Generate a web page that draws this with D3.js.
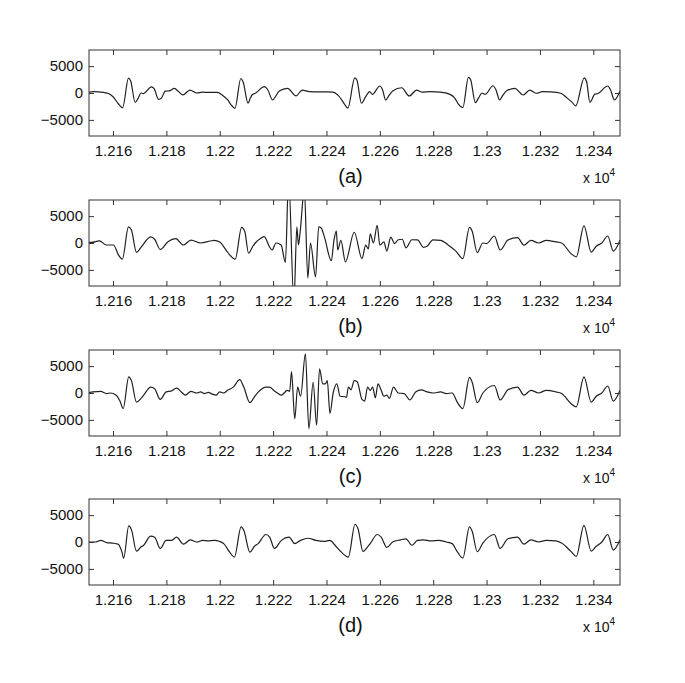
<!DOCTYPE html>
<html>
<head>
<meta charset="utf-8">
<script src="https://cdn.jsdelivr.net/npm/d3@7"></script>
<style>
  body { margin: 0; background: #fff; }
  svg { display: block; }
</style>
</head>
<body>
<script>
// ---------- data ----------
const xTickValues = [12160, 12180, 12200, 12220, 12240, 12260, 12280, 12300, 12320, 12340];
const xTickLabels = ["1.216", "1.218", "1.22", "1.222", "1.224", "1.226", "1.228", "1.23", "1.232", "1.234"];
const yTickValues = [-5000, 0, 5000];
const yTickLabels = ["\u22125000", "0", "5000"];
const panelLabels = ["(a)", "(b)", "(c)", "(d)"];
const xDomain = [12151, 12350];
const yDomain = [-8000, 8000];

const seriesA = [
  [12150,100],[12152.6,250],[12156.4,100],[12158.3,-100],[12160,-700],[12162,-2000],[12163.6,-2750],
  [12165.8,2750],[12166.6,2300],[12168.3,-1750],[12169.5,-900],[12170.5,0],[12171.4,-100],
  [12174.4,1150],[12175.4,800],[12177.1,-1200],[12178.2,-900],[12179.6,350],[12181,400],[12183,850],
  [12184.5,300],[12186.2,-350],[12188.8,550],[12191.4,0],[12193.5,150],[12196,100],[12199,100],
  [12201,-400],[12203,-1300],[12204.1,-2100],[12205.7,-2850],[12207.9,2700],[12208.8,2000],
  [12210.6,-1900],[12211.5,-900],[12212.1,-370],[12213.5,0],[12216.7,1170],[12218,600],[12219.8,-1300],
  [12221.1,-500],[12222.3,370],[12225.4,870],[12228.6,-550],[12230.9,550],[12233.6,250],[12237,200],
  [12240,200],[12242.4,180],[12244.5,-500],[12246.8,-2100],[12248,-2830],[12250.6,2830],[12251.4,2400],
  [12253.1,-1900],[12254.7,-680],[12256.2,250],[12257.2,-250],[12260,1300],[12261,600],[12262.2,-1300],
  [12263.5,-400],[12264.8,370],[12268.2,980],[12271,-550],[12273.8,550],[12275.7,180],[12279,250],
  [12282.6,180],[12286.3,-250],[12288,-900],[12289.5,-2100],[12291.1,-2700],[12293.2,2900],[12294,2500],
  [12295.8,-1800],[12297,-900],[12298.3,0],[12299.5,-250],[12302.4,1350],[12303.5,600],[12304.9,-1300],
  [12306,-500],[12307.4,370],[12310.6,870],[12313.7,-370],[12316.2,550],[12318.7,-50],[12320.9,250],
  [12324,200],[12327.8,-50],[12330.3,-1000],[12332,-1700],[12333.4,-2400],[12336.6,2830],[12337.5,2100],
  [12338.7,-1720],[12340.6,-200],[12341.7,-100],[12345.4,1300],[12346.5,500],[12347.9,-1300],[12350,370]
];

const seriesB = [
  [12150,200],[12152,100],[12154.9,400],[12157.5,-370],[12160.2,-370],[12162,-2200],[12163.5,-3000],
  [12165.8,3000],[12166.9,2400],[12168.8,-1750],[12170.5,-800],[12174.1,1150],[12175.6,700],[12177.7,-1200],
  [12180.6,250],[12183.5,800],[12186.4,-370],[12189.2,550],[12192.8,0],[12196.4,370],[12197.9,500],
  [12200,200],[12202.9,-1700],[12205.8,-3000],[12208.2,2900],[12209.4,2100],[12210.8,-1900],[12212.3,-700],
  [12213.3,0],[12215.4,900],[12216.7,1200],[12217.3,800],[12218.5,-600],[12219.6,-1300],[12221.1,0],
  [12223,-370],[12224.6,-3600],[12225.8,12000],[12227.8,-11000],[12228.9,3000],[12229.5,-370],
  [12230.2,2400],[12231.7,10000],[12233,-6500],[12234,0],[12235.9,-6300],[12237.1,3000],[12238,2800],
  [12239.3,1000],[12241.8,-3300],[12242.8,500],[12243.7,2200],[12244.2,-1300],[12245.4,500],
  [12247.1,-3500],[12250.4,2000],[12253.3,-2900],[12254.7,-400],[12255.7,-1100],[12256.4,1700],
  [12257.6,0],[12259,3300],[12260,-400],[12261.5,200],[12262.6,-1500],[12264.1,1100],[12265.5,-100],
  [12266.9,600],[12268.4,700],[12269.8,-900],[12272,600],[12274.1,600],[12276.3,-800],[12277.7,-600],
  [12279.9,600],[12282.8,500],[12285.7,-400],[12288.5,-1500],[12291.1,-2900],[12293.6,2900],[12294.6,2200],
  [12296.5,-1800],[12298.6,0],[12300,-100],[12302.9,1300],[12305.1,-1300],[12308,550],[12311.6,1000],
  [12314,-400],[12316.6,500],[12319.5,0],[12322.4,500],[12326,200],[12328.1,0],[12331.7,-2000],
  [12333.6,-2600],[12336.5,3200],[12339.2,-1700],[12341.1,-600],[12343.2,0],[12345.4,1300],
  [12347.5,-1500],[12350,500]
];

const seriesC = [
  [12150,0],[12152.5,200],[12155.4,300],[12157.6,-100],[12159,0],[12161.2,-400],[12162.6,-1500],
  [12163.8,-2900],[12165.9,3000],[12166.9,2300],[12168.8,-1700],[12170.5,-1000],[12171.5,-400],
  [12174.1,1100],[12175.6,800],[12177.7,-1200],[12179.9,200],[12182,400],[12183.8,900],[12185.6,200],
  [12187.1,-400],[12189.2,300],[12191.4,0],[12192.8,200],[12194.3,-100],[12195.7,100],[12197.2,-200],
  [12198.6,-400],[12200,200],[12201.5,0],[12202.9,500],[12205.1,1100],[12207.5,2500],[12209,1100],
  [12211.3,-1800],[12213,-700],[12215.1,500],[12217.3,1100],[12218.7,1100],[12220.2,500],[12221.6,0],
  [12223.1,-400],[12224.5,200],[12225.2,500],[12226.2,300],[12226.9,4000],[12228.1,-4800],[12229.2,1100],
  [12230.3,-600],[12232.1,7300],[12233.4,-6600],[12235,2000],[12236.3,-6000],[12237.4,4500],
  [12238.6,1700],[12239.6,1700],[12240.3,2300],[12241.3,-3800],[12242.5,0],[12243.9,1700],[12245.1,-600],
  [12246.8,-700],[12247.5,-800],[12248.2,1100],[12249.2,600],[12250.4,2300],[12251.5,2100],
  [12253.3,-1200],[12254.3,-1500],[12255.4,1100],[12256.4,500],[12257.3,1100],[12258.3,-900],
  [12259.3,1700],[12260.5,500],[12261.5,-600],[12262.6,-400],[12263.6,-1000],[12265.1,1100],
  [12266.9,0],[12269.1,-100],[12271.3,-1300],[12273.4,200],[12275.6,600],[12277.7,200],[12279.9,0],
  [12282.8,200],[12284.9,-100],[12287.1,0],[12289,-1700],[12291.1,-2900],[12293.6,2900],[12294.6,2000],
  [12296.5,-1800],[12298.6,0],[12302.9,1400],[12305.1,-1300],[12308,600],[12311.6,1100],[12314,-400],
  [12316.6,500],[12319.5,0],[12322.4,500],[12326,200],[12328.1,-100],[12331.7,-2000],[12333.6,-2600],
  [12336.5,3000],[12339.2,-1700],[12341.1,-600],[12343.2,0],[12345.4,1300],[12347.5,-1500],[12350,500]
];

const seriesD = [
  [12150,0],[12153.3,0],[12155.4,300],[12157.6,-100],[12159.7,-200],[12161.9,-400],[12163.3,-1800],
  [12164,-3000],[12165.9,3000],[12166.9,2300],[12168.8,-1700],[12170.5,-900],[12171.5,-600],
  [12174.1,1100],[12175.6,900],[12177.7,-1200],[12179.9,300],[12182,300],[12183.8,900],[12186.4,-400],
  [12189,400],[12191.4,0],[12193.6,300],[12195.7,200],[12197.9,300],[12200,100],[12201.5,-300],
  [12203.6,-1800],[12205.5,-2800],[12208,2800],[12209,2200],[12211.3,-1900],[12213,-800],[12214.4,-300],
  [12217.3,1400],[12218.7,900],[12220.5,-1200],[12223.1,300],[12226,900],[12228.1,-300],[12230.3,300],
  [12233.1,700],[12236,300],[12239.1,100],[12241.3,300],[12243.2,-600],[12245.4,-1800],[12248.2,-2800],
  [12250.7,3300],[12251.8,2500],[12253.7,-1800],[12255.4,-900],[12256.4,-300],[12259,1400],[12260.5,900],
  [12262.6,-1000],[12264.8,0],[12267.7,400],[12269.8,600],[12272,-600],[12274.1,300],[12276.3,400],
  [12279.2,200],[12282.1,300],[12284.9,0],[12287.1,-300],[12289,-1800],[12291.1,-3000],[12293.6,2800],
  [12294.6,2000],[12296.5,-1800],[12298.6,-200],[12302.9,1400],[12305.1,-1200],[12308,600],[12311.6,900],
  [12314,-400],[12316.6,400],[12319.5,0],[12322.4,300],[12326,200],[12328.1,-200],[12331.7,-1800],
  [12333.6,-2700],[12336.5,3100],[12339.2,-1700],[12341.1,-800],[12343.2,0],[12345.4,1400],
  [12347.5,-1500],[12350,400]
];

const allSeries = [seriesA, seriesB, seriesC, seriesD];

// ---------- layout ----------
const W = 685, H = 683;
const left = 89, right = 620;
const panelTops = [50, 200, 350, 499];
const panelH = 86;
const font = "'Liberation Sans', Arial, Helvetica, sans-serif";

const svg = d3.select("body").append("svg")
  .attr("width", W).attr("height", H)
  .style("background", "#fff");

const x = d3.scaleLinear().domain(xDomain).range([left, right]);

allSeries.forEach((data, i) => {
  const top = panelTops[i];
  const y = d3.scaleLinear().domain(yDomain).range([top + panelH, top]);
  const g = svg.append("g");

  const clipId = "clip" + i;
  svg.append("clipPath").attr("id", clipId)
    .append("rect").attr("x", left).attr("y", top)
    .attr("width", right - left).attr("height", panelH);

  const line = d3.line()
    .x(d => x(d[0])).y(d => y(d[1]))
    .curve(d3.curveMonotoneX);

  // signal
  g.append("path")
    .datum(data)
    .attr("clip-path", `url(#${clipId})`)
    .attr("fill", "none")
    .attr("stroke", "#202020")
    .attr("stroke-width", 1.2)
    .attr("stroke-linejoin", "round")
    .attr("d", line);

  // axes (inner ticks, MATLAB style)
  const bottomAxis = d3.axisBottom(x).tickValues(xTickValues)
    .tickFormat((d, k) => xTickLabels[k]).tickSizeInner(-5).tickSizeOuter(0).tickPadding(9);
  const topAxis = d3.axisTop(x).tickValues(xTickValues)
    .tickFormat("").tickSizeInner(-5).tickSizeOuter(0);
  const leftAxis = d3.axisLeft(y).tickValues(yTickValues)
    .tickFormat((d, k) => yTickLabels[k]).tickSizeInner(-5).tickSizeOuter(0).tickPadding(6);
  const rightAxis = d3.axisRight(y).tickValues(yTickValues)
    .tickFormat("").tickSizeInner(-5).tickSizeOuter(0);

  const axes = [
    g.append("g").attr("transform", `translate(0,${top + panelH})`).call(bottomAxis),
    g.append("g").attr("transform", `translate(0,${top})`).call(topAxis),
    g.append("g").attr("transform", `translate(${left},0)`).call(leftAxis),
    g.append("g").attr("transform", `translate(${right},0)`).call(rightAxis)
  ];
  axes.forEach(a => {
    a.select(".domain").remove();
    a.selectAll("line").attr("stroke", "#333");
    a.selectAll("text").attr("fill", "#111").style("font-family", font).style("font-size", "15px");
  });

  // box
  g.append("rect")
    .attr("x", left).attr("y", top)
    .attr("width", right - left).attr("height", panelH)
    .attr("fill", "none").attr("stroke", "#333").attr("stroke-width", 1);

  // panel label
  g.append("text")
    .attr("x", (left + right) / 2 - 4).attr("y", top + panelH + 47)
    .attr("text-anchor", "middle")
    .style("font-family", font).style("font-size", "20px").attr("fill", "#111")
    .text(panelLabels[i]);

  // exponent label
  const ex = g.append("text")
    .attr("x", 583).attr("y", top + panelH + 47)
    .style("font-family", font).style("font-size", "14px").attr("fill", "#111");
  ex.append("tspan").text("x 10");
  ex.append("tspan").attr("dy", -7).style("font-size", "10px").text("4");
});
</script>
</body>
</html>
